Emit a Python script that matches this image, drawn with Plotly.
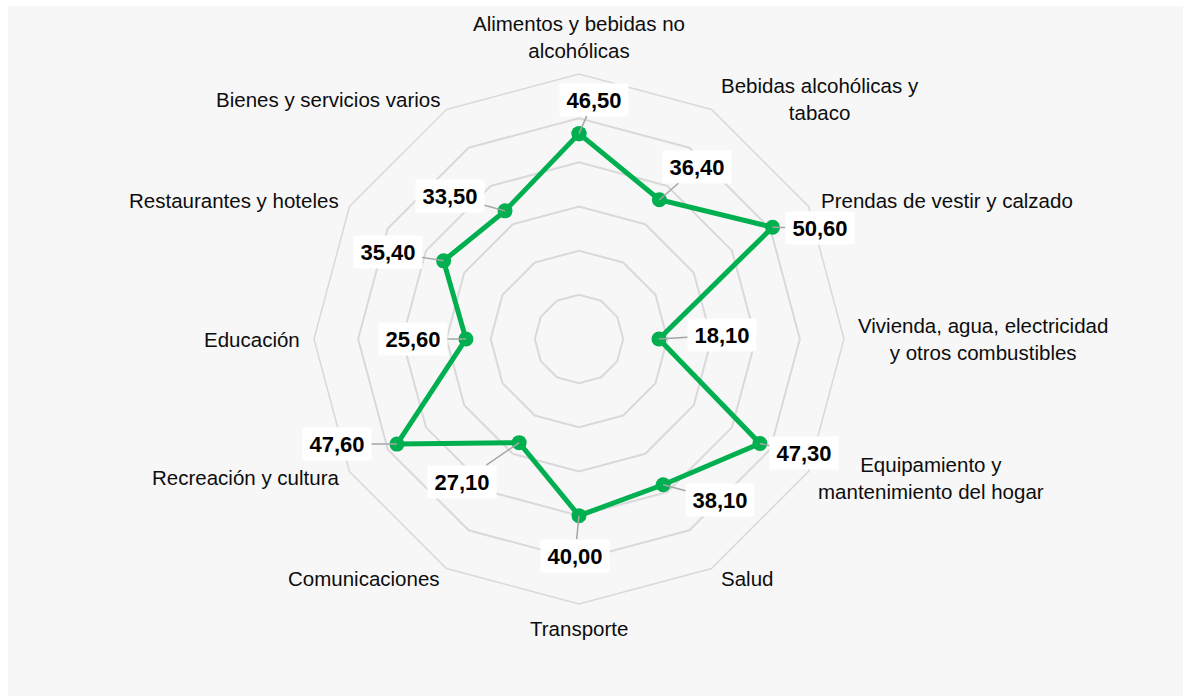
import math
import plotly.graph_objects as go

categories = [
    "Alimentos y bebidas no<br>alcohólicas",
    "Bebidas alcohólicas y<br>tabaco",
    "Prendas de vestir y calzado",
    "Vivienda, agua, electricidad<br>y otros combustibles",
    "Equipamiento y<br>mantenimiento del hogar",
    "Salud",
    "Transporte",
    "Comunicaciones",
    "Recreación y cultura",
    "Educación",
    "Restaurantes y hoteles",
    "Bienes y servicios varios",
]
values = [46.5, 36.4, 50.6, 18.1, 47.3, 38.1, 40.0, 27.1, 47.6, 25.6, 35.4, 33.5]
value_labels = ["46,50", "36,40", "50,60", "18,10", "47,30", "38,10",
                "40,00", "27,10", "47,60", "25,60", "35,40", "33,50"]
# pixel offsets of each value label box from its point (styling only)
label_dx = [15, 38, 47, 63, 44, 57, -4, -57, -60, -53, -56, -55]
label_dy = [-34, -33, 1, -4, 10, 15, 40, 39, 0, 0, -9, -15]
# category label placement relative to outer ring vertex (styling only)
cat_anchor = ["center", "center", "left", "left", "left", "left",
              "center", "right", "right", "right", "right", "right"]
cat_xshift = [0, 108, 10, 12, 7, 7, 0, -5, -9, -12, -9, -5]
cat_yshift = [37, 10, 6, 0, -6, -10, -24, -10, -6, 0, 6, 10]

R_MAX = 60
GREEN = "#00b050"
GRID = "#d9d9d9"
FONT = "Liberation Sans, Arial, sans-serif"

W, H = 1183, 696
ML, MT, MR, MB = 8, 6, 0, 0
PW, PH = W - ML - MR, H - MT - MB
cx, cy, rad = 579, 339, 265
xdom = [(cx - rad - ML) / PW, (cx + rad - ML) / PW]
ydom = [(H - MB - cy - rad) / PH, (H - MB - cy + rad) / PH]

fig = go.Figure()
fig.add_trace(go.Scatterpolar(
    r=values + [values[0]],
    theta=categories + [categories[0]],
    mode="lines+markers",
    line=dict(color=GREEN, width=5),
    marker=dict(color=GREEN, size=15),
    showlegend=False,
    hoverinfo="skip",
))

n = len(categories)
annotations = []
for i, cat in enumerate(categories):
    ang = 2 * math.pi * i / n
    annotations.append(dict(
        x=R_MAX * math.sin(ang), y=R_MAX * math.cos(ang), xref="x", yref="y",
        text=cat, showarrow=False, align="center",
        xanchor=cat_anchor[i], yanchor="middle",
        xshift=cat_xshift[i], yshift=cat_yshift[i],
        font=dict(family=FONT, size=20.5, color="#0d0d0d"),
    ))
for i, (v, lab) in enumerate(zip(values, value_labels)):
    ang = 2 * math.pi * i / n
    annotations.append(dict(
        x=v * math.sin(ang), y=v * math.cos(ang), xref="x", yref="y",
        text="<b>" + lab + "</b>",
        showarrow=True, arrowhead=0, arrowwidth=1.5, arrowcolor="#a6a6a6",
        ax=label_dx[i], ay=label_dy[i], axref="pixel", ayref="pixel",
        standoff=0,
        bgcolor="white", borderpad=0, width=68, height=32,
        font=dict(family=FONT, size=22, color="black"),
    ))

fig.update_layout(
    width=W, height=H,
    margin=dict(l=ML, r=MR, t=MT, b=MB),
    paper_bgcolor="white",
    plot_bgcolor="rgba(0,0,0,0)",
    shapes=[dict(type="rect", xref="paper", yref="paper", x0=0, x1=1, y0=0, y1=1,
                 fillcolor="#f7f7f7", line=dict(width=0), layer="below")],
    polar=dict(
        domain=dict(x=xdom, y=ydom),
        bgcolor="#f7f7f7",
        gridshape="linear",
        radialaxis=dict(range=[0, R_MAX], dtick=10, showticklabels=False,
                        ticks="", showline=False, gridcolor=GRID, gridwidth=1.5),
        angularaxis=dict(direction="clockwise", rotation=90, showgrid=False,
                         linecolor=GRID, linewidth=1.5, showticklabels=False,
                         ticks=""),
    ),
    xaxis=dict(domain=xdom, range=[-R_MAX, R_MAX], visible=False, fixedrange=True),
    yaxis=dict(domain=ydom, range=[-R_MAX, R_MAX], visible=False, fixedrange=True),
    annotations=annotations,
)

fig.write_html(
    "out.html",
    config={"displayModeBar": False},
    post_script="document.body.style.margin='0';"
                "document.documentElement.style.overflow='hidden';",
)
